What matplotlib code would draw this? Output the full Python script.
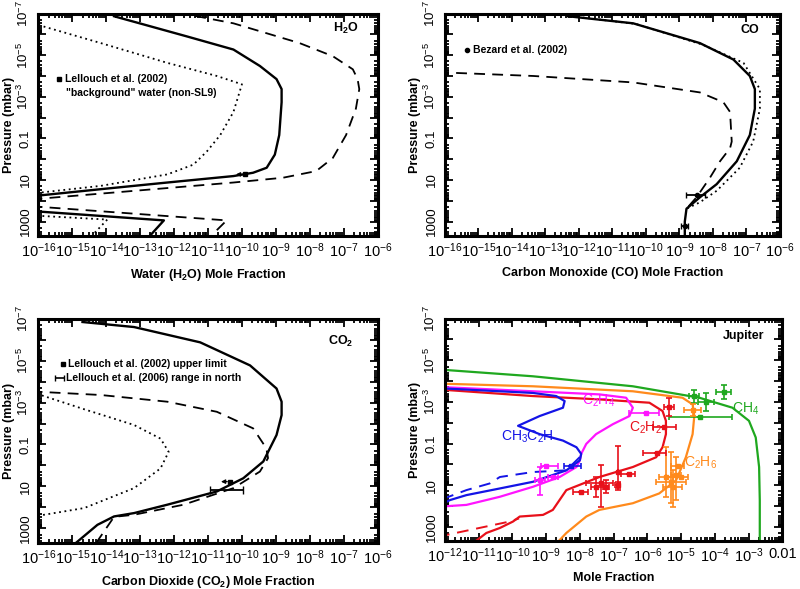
import numpy as np
import matplotlib.pyplot as plt
from matplotlib.ticker import LogLocator, NullFormatter

plt.rcParams['font.family'] = ['Liberation Sans', 'DejaVu Sans']
plt.rcParams['mathtext.default'] = 'regular'

# all values below are log10 of mole fraction (x) and log10 of pressure in mbar (p)

# ---- H2O panel
h2o_solid_x = [-13.77, -11.62, -10.25, -9.47, -8.98, -8.83, -8.83, -8.90, -9.03, -9.27, -9.67, -10.25, -12.2, -14.16, -16.2]
h2o_solid_p = [-6.87, -5.90, -5.27, -4.48, -3.85, -3.37, -2.74, -1.16, -0.22, 0.41, 0.65, 0.81, 1.12, 1.44, 1.78]
h2o_solid2_x = [-16.2, -12.3, -12.74, -12.9]
h2o_solid2_p = [2.49, 2.94, 3.73, 3.9]
h2o_dash_x = [-11.9, -10.25, -8.3, -7.32, -6.73, -6.59, -6.54, -6.64, -6.93, -7.32, -7.81, -8.79, -10.25, -13.18, -16.2]
h2o_dash_p = [-7.05, -6.53, -5.58, -4.95, -4.32, -3.85, -3.37, -2.43, -1.16, -0.06, 0.57, 0.89, 1.12, 1.52, 1.93]
h2o_dash2_x = [-16.2, -10.45, -10.84, -11.0]
h2o_dash2_p = [2.26, 2.94, 3.57, 3.9]
h2o_dot_x = [-16.0, -14.16, -12.2, -10.74, -10.0, -10.25, -10.64, -11.03, -11.43, -12.2, -14.16, -16.2]
h2o_dot_p = [-6.45, -5.58, -4.63, -4.0, -3.6, -2.27, -1.16, -0.38, 0.26, 0.73, 1.28, 1.65]
h2o_dot2_x = [-16.2, -13.97, -14.36, -14.5]
h2o_dot2_p = [2.7, 2.9, 3.57, 3.9]
h2o_obs_x, h2o_obs_p = -9.91, 0.73

# ---- CO panel
co_solid_x = [-12.32, -10.38, -8.39, -7.39, -6.90, -6.75, -6.75, -6.90, -7.29, -7.89, -8.39, -8.79, -8.84, -8.84]
co_solid_p = [-6.87, -6.53, -5.58, -4.79, -4.0, -3.37, -2.43, -1.16, 0.10, 1.20, 1.83, 2.38, 3.0, 3.9]
co_dot_x = [-12.2, -10.3, -8.3, -7.09, -6.6, -6.6, -6.8, -7.2, -7.89, -8.39, -8.79]
co_dot_p = [-6.87, -6.5, -5.5, -4.63, -3.37, -2.43, -0.85, 0.41, 1.52, 2.07, 2.38]
co_dash_x = [-16.2, -13.36, -10.38, -8.39, -7.69, -7.49, -7.44, -7.49, -7.79, -8.09, -8.49, -8.79]
co_dash_p = [-4.18, -4.0, -3.69, -3.21, -2.74, -2.27, -0.85, -0.53, 0.10, 0.89, 1.83, 2.38]
co_obs_x = [-8.49, -8.84]
co_obs_p = [1.71, 3.22]
co_obs_xlo = [-8.79, -8.94]
co_obs_xhi = [-8.24, -8.74]

# ---- CO2 panel
co2_solid_x = [-14.7, -13.18, -11.23, -9.76, -8.98, -8.83, -8.83, -8.98, -9.37, -9.96, -10.74, -12.2, -13.18, -13.77, -14.26, -14.9, -15.1]
co2_solid_p = [-6.84, -6.6, -5.87, -4.77, -3.67, -3.04, -2.4, -1.45, -0.19, 0.61, 1.24, 1.87, 2.27, 2.43, 2.83, 3.7, 3.9]
co2_dash_x = [-16.2, -14.16, -12.2, -10.74, -9.67, -9.28, -9.23, -9.47, -10.25, -11.72, -13.18, -13.77, -14.3, -14.45]
co2_dash_p = [-3.53, -3.36, -3.04, -2.56, -1.77, -0.82, -0.35, 0.29, 1.08, 1.87, 2.35, 2.45, 3.7, 3.9]
co2_dot_x = [-16.2, -14.65, -13.18, -12.4, -12.16, -12.4, -13.18, -14.65, -16.2]
co2_dot_p = [-3.5, -2.68, -1.93, -1.28, -0.65, 0.14, 1.08, 2.03, 2.45]
co2_limit_x, co2_limit_p = -10.35, 0.77
co2_range_x = [-10.94, -9.96]
co2_range_p = 1.16

# ---- Jupiter panel
ch4_x = [-12.2, -9.39, -6.43, -4.46, -3.48, -2.99, -2.79, -2.69, -2.67, -2.67]
ch4_p = [-4.56, -4.23, -3.75, -3.2, -2.72, -2.09, -1.29, 0.13, 1.72, 3.9]
c2h6_x = [-12.2, -9.39, -6.43, -4.96, -4.66, -4.61, -4.66, -4.86, -5.15, -5.65, -6.43, -7.42, -7.81, -8.4, -8.75]
c2h6_p = [-3.88, -3.75, -3.51, -3.2, -2.88, -2.32, -1.45, -0.34, 0.77, 1.4, 1.87, 2.19, 2.51, 3.3, 3.9]
c2h2_x = [-12.2, -9.39, -7.42, -5.94, -5.55, -5.45, -5.45, -5.55, -5.74, -6.43, -7.42, -8.4, -8.8, -9.09, -9.78, -9.98, -10.37, -10.77, -11.25]
c2h2_p = [-3.6, -3.28, -3.12, -2.96, -2.56, -2.09, -1.45, -0.82, -0.34, 0.13, 0.61, 1.24, 2.19, 2.43, 2.51, 2.75, 3.06, 3.3, 3.9]
c2h2_dash_x = [-12.2, -10.08, -9.8]
c2h2_dash_p = [3.48, 2.75, 2.6]
c2h4_x = [-12.2, -9.39, -7.42, -6.63, -6.43, -6.53, -7.02, -7.52, -7.81, -7.96, -8.0, -8.1, -8.6, -9.39, -10.37, -11.36, -12.2]
c2h4_p = [-3.72, -3.51, -3.36, -3.2, -2.72, -2.32, -1.93, -1.45, -0.98, -0.5, -0.19, 0.13, 0.61, 1.08, 1.56, 1.95, 2.04]
c3h4_x = [-12.2, -9.39, -8.7, -8.45, -8.5, -9.19, -9.83, -9.19, -8.5, -8.1, -7.96, -8.0, -8.4, -9.39, -10.37, -11.36, -11.85, -12.2]
c3h4_p = [-3.66, -3.43, -3.28, -3.04, -2.72, -2.32, -1.85, -1.45, -1.14, -0.82, -0.5, -0.19, 0.29, 0.84, 1.16, 1.48, 1.72, 2.0]
c3h4_dash_x = [-8.0, -8.4, -9.39, -10.37, -10.67, -11.36, -12.2]
c3h4_dash_p = [-0.35, 0.29, 0.37, 0.61, 0.92, 1.24, 1.75]

# observations: x, p, x low, x high, p low, p high
ch4_obs_x = [-4.61, -4.27, -3.74, -4.43]
ch4_obs_p = [-3.28, -3.01, -3.48, -2.28]
ch4_obs_xlo = [-4.76, -4.51, -3.97, -5.35]
ch4_obs_xhi = [-4.46, -4.02, -3.52, -3.48]
ch4_obs_plo = [-3.59, -3.43, -3.83, -2.28]
ch4_obs_phi = [-2.96, -2.56, -3.12, -2.28]

c2h6_obs_x = [-4.66, -5.1, -5.45, -5.3, -5.15, -5.25, -5.0]
c2h6_obs_p = [-2.61, 0.1, 0.61, 0.84, 0.53, 1.08, 0.61]
c2h6_obs_xlo = [-4.91, -5.3, -5.65, -5.74, -5.3, -5.55, -5.45]
c2h6_obs_xhi = [-4.41, -4.9, -5.25, -4.86, -5.0, -4.96, -4.81]
c2h6_obs_plo = [-2.88, 0.1, -0.82, -0.58, -0.35, 0.29, 0.61]
c2h6_obs_phi = [-2.32, 0.1, 1.56, 1.87, 1.71, 2.03, 0.61]

c2h2_obs_x = [-5.35, -5.5, -5.7, -6.53, -6.88, -6.88, -7.37, -7.52, -7.96, -7.22]
c2h2_obs_p = [-2.75, -1.8, -0.53, 0.45, 0.37, 1.0, 0.92, 1.08, 1.32, 1.08]
c2h2_obs_xlo = [-5.5, -5.84, -6.14, -6.78, -6.88, -6.95, -7.81, -7.67, -8.2, -7.3]
c2h2_obs_xhi = [-5.2, -5.15, -5.45, -6.38, -6.88, -6.8, -7.02, -7.27, -7.76, -7.15]
c2h2_obs_plo = [-3.2, -1.8, -0.53, 0.45, -0.9, 0.85, 0.05, 0.61, 1.32, 0.77]
c2h2_obs_phi = [-2.32, -1.8, -0.53, 0.45, 1.24, 1.15, 2.03, 1.56, 1.32, 1.4]

c2h4_obs_x = [-6.04, -9.0, -9.19, -8.8]
c2h4_obs_p = [-2.48, 0.08, 0.77, 0.61]
c2h4_obs_xlo = [-6.53, -9.14, -9.34, -8.95]
c2h4_obs_xhi = [-5.65, -8.65, -9.04, -8.65]
c2h4_obs_plo = [-2.48, 0.08, 0.13, 0.61]
c2h4_obs_phi = [-2.48, 0.08, 1.48, 0.61]

c3h4_obs_x = [-8.26]
c3h4_obs_p = [0.08]
c3h4_obs_xlo = [-8.46]
c3h4_obs_xhi = [-7.96]

panel_xlabels = ['Water (H$_2$O) Mole Fraction', 'Carbon Monoxide (CO) Mole Fraction',
                 'Carbon Dioxide (CO$_2$) Mole Fraction', 'Mole Fraction']
y_ticklabels = ['$10^{-7}$', '', '$10^{-5}$', '', '$10^{-3}$', '', '0.1', '', '10', '', '1000']

GREEN = '#1fa81f'
ORANGE = '#ff8a1c'
RED = '#e8101a'
MAGENTA = '#ff14ff'
BLUE = '#1414e6'


def L(v):
    return 10.0 ** np.asarray(v, dtype=float)


def setup(ax, xlo, xlabel, last_label=None):
    ax.set_xscale('log')
    ax.set_yscale('log')
    ax.set_xlim(10.0 ** xlo, 10.0 ** (xlo + 10))
    ax.set_ylim(5e3, 1e-7)
    exps = list(range(xlo, xlo + 11))
    ax.set_xticks(L(exps))
    labs = ['$10^{%d}$' % e for e in exps]
    if last_label:
        labs[-1] = last_label
    ax.set_xticklabels(labs, fontsize=10.5)
    ax.set_yticks(L(range(-7, 4)))
    ax.set_yticklabels(y_ticklabels, fontsize=9.5, rotation=90, va='center')
    ax.xaxis.set_minor_locator(LogLocator(base=10, subs=np.arange(2, 10), numticks=100))
    ax.yaxis.set_minor_locator(LogLocator(base=10, subs=np.arange(2, 10), numticks=100))
    ax.xaxis.set_minor_formatter(NullFormatter())
    ax.yaxis.set_minor_formatter(NullFormatter())
    ax.tick_params(which='both', direction='in', top=True, right=True, width=1.3)
    ax.tick_params(which='major', length=6, pad=4)
    ax.tick_params(axis='y', which='major', pad=5)
    ax.tick_params(which='minor', length=3)
    for sp in ax.spines.values():
        sp.set_linewidth(2.2)
    ax.set_xlabel(xlabel, fontsize=9, fontweight='bold', labelpad=5)
    ax.set_ylabel('Pressure (mbar)', fontsize=9, fontweight='bold', labelpad=1)


def obs(ax, x, p, xlo, xhi, plo, phi, color, marker='s', ms=3):
    x = L(x); p = L(p)
    xerr = [x - L(xlo), L(xhi) - x]
    perr = [p - L(plo), L(phi) - p]
    ax.errorbar(x, p, xerr=xerr, yerr=perr, fmt=marker, color=color, ms=ms,
                elinewidth=1.2, capsize=2.5, capthick=1.2)


fig = plt.figure(figsize=(8.0, 5.89), dpi=100)
ax1 = fig.add_axes([0.048, 0.599, 0.424, 0.378])
ax2 = fig.add_axes([0.556, 0.599, 0.419, 0.378])
ax3 = fig.add_axes([0.048, 0.078, 0.424, 0.381])
ax4 = fig.add_axes([0.556, 0.081, 0.422, 0.378])

DASH = (0, (6, 4))
DOT = (0, (1, 2))

# H2O
ax1.plot(L(h2o_solid_x), L(h2o_solid_p), 'k-', lw=1.7)
ax1.plot(L(h2o_solid2_x), L(h2o_solid2_p), 'k-', lw=1.7)
ax1.plot(L(h2o_dash_x), L(h2o_dash_p), 'k', ls=DASH, lw=1.3)
ax1.plot(L(h2o_dash2_x), L(h2o_dash2_p), 'k', ls=DASH, lw=1.3)
ax1.plot(L(h2o_dot_x), L(h2o_dot_p), 'k', ls=DOT, lw=1.3)
ax1.plot(L(h2o_dot2_x), L(h2o_dot2_p), 'k', ls=DOT, lw=1.3)
ax1.plot(10 ** h2o_obs_x, 10 ** h2o_obs_p, 'ks', ms=3)
ax1.annotate('', xy=(10 ** (h2o_obs_x - 0.35), 10 ** h2o_obs_p), xytext=(10 ** h2o_obs_x, 10 ** h2o_obs_p),
             arrowprops=dict(arrowstyle='-|>', lw=0.9, color='k', mutation_scale=6))
ax1.plot([0.062], [0.705], 'ks', ms=3, transform=ax1.transAxes)
ax1.text(0.078, 0.705, 'Lellouch et al. (2002)', transform=ax1.transAxes, fontsize=7.5,
         fontweight='bold', va='center')
ax1.text(0.082, 0.645, '"background" water (non-SL9)', transform=ax1.transAxes, fontsize=7.5,
         fontweight='bold', va='center')
ax1.text(0.906, 0.932, 'H$_2$O', transform=ax1.transAxes, fontsize=9, fontweight='bold',
         ha='center', va='center')
setup(ax1, -16, panel_xlabels[0])

# CO
ax2.plot(L(co_solid_x), L(co_solid_p), 'k-', lw=1.7)
ax2.plot(L(co_dot_x), L(co_dot_p), 'k', ls=DOT, lw=1.3)
ax2.plot(L(co_dash_x), L(co_dash_p), 'k', ls=DASH, lw=1.3)
cx = L(co_obs_x)
ax2.errorbar(cx, L(co_obs_p), xerr=[cx - L(co_obs_xlo), L(co_obs_xhi) - cx], fmt='ko', ms=3,
             elinewidth=1.3, capsize=2.5)
ax2.plot([0.066], [0.836], 'ko', ms=3, transform=ax2.transAxes)
ax2.text(0.085, 0.836, 'Bezard et al. (2002)', transform=ax2.transAxes, fontsize=7.5,
         fontweight='bold', va='center')
ax2.text(0.91, 0.925, 'CO', transform=ax2.transAxes, fontsize=9, fontweight='bold',
         ha='center', va='center')
setup(ax2, -16, panel_xlabels[1])

# CO2
ax3.plot(L(co2_solid_x), L(co2_solid_p), 'k-', lw=1.7)
ax3.plot(L(co2_dash_x), L(co2_dash_p), 'k', ls=DASH, lw=1.3)
ax3.plot(L(co2_dot_x), L(co2_dot_p), 'k', ls=DOT, lw=1.3)
ax3.plot(10 ** co2_limit_x, 10 ** co2_limit_p, 'ks', ms=3)
ax3.annotate('', xy=(10 ** (co2_limit_x - 0.35), 10 ** co2_limit_p), xytext=(10 ** co2_limit_x, 10 ** co2_limit_p),
             arrowprops=dict(arrowstyle='-|>', lw=0.9, color='k', mutation_scale=6))
rx = L(co2_range_x)
rmid = np.sqrt(rx[0] * rx[1])
ax3.errorbar([rmid], [10 ** co2_range_p], xerr=[[rmid - rx[0]], [rx[1] - rmid]],
             fmt='none', ecolor='k', elinewidth=1.3, capsize=3)
ax3.plot([0.073], [0.80], 'ks', ms=3, transform=ax3.transAxes)
ax3.text(0.088, 0.80, 'Lellouch et al. (2002) upper limit', transform=ax3.transAxes, fontsize=7.5,
         fontweight='bold', va='center')
ax3.errorbar([0.062], [0.735], xerr=[0.014], fmt='none', ecolor='k', elinewidth=1.2, capsize=2.5,
             transform=ax3.transAxes)
ax3.text(0.08, 0.735, 'Lellouch et al. (2006) range in north', transform=ax3.transAxes, fontsize=7.5,
         fontweight='bold', va='center')
ax3.text(0.89, 0.90, 'CO$_2$', transform=ax3.transAxes, fontsize=9, fontweight='bold',
         ha='center', va='center')
setup(ax3, -16, panel_xlabels[2])

# Jupiter
ax4.plot(L(ch4_x), L(ch4_p), color=GREEN, lw=1.6)
ax4.plot(L(c2h6_x), L(c2h6_p), color=ORANGE, lw=1.6)
ax4.plot(L(c2h2_x), L(c2h2_p), color=RED, lw=1.6)
ax4.plot(L(c2h2_dash_x), L(c2h2_dash_p), color=RED, lw=1.4, ls=DASH)
ax4.plot(L(c2h4_x), L(c2h4_p), color=MAGENTA, lw=1.6)
ax4.plot(L(c3h4_x), L(c3h4_p), color=BLUE, lw=1.6)
ax4.plot(L(c3h4_dash_x), L(c3h4_dash_p), color=BLUE, lw=1.4, ls=DASH)
obs(ax4, ch4_obs_x, ch4_obs_p, ch4_obs_xlo, ch4_obs_xhi, ch4_obs_plo, ch4_obs_phi, GREEN)
obs(ax4, c2h6_obs_x, c2h6_obs_p, c2h6_obs_xlo, c2h6_obs_xhi, c2h6_obs_plo, c2h6_obs_phi, ORANGE)
obs(ax4, c2h2_obs_x, c2h2_obs_p, c2h2_obs_xlo, c2h2_obs_xhi, c2h2_obs_plo, c2h2_obs_phi, RED)
obs(ax4, c2h4_obs_x, c2h4_obs_p, c2h4_obs_xlo, c2h4_obs_xhi, c2h4_obs_plo, c2h4_obs_phi, MAGENTA)
obs(ax4, c3h4_obs_x, c3h4_obs_p, c3h4_obs_xlo, c3h4_obs_xhi, c3h4_obs_p, c3h4_obs_p, BLUE)
ax4.text(10 ** -9.54, 10 ** -1.31, 'CH$_3$C$_2$H', color=BLUE, fontsize=10, ha='center', va='center')
ax4.text(10 ** -7.44, 10 ** -3.07, 'C$_2$H$_4$', color=MAGENTA, fontsize=10, ha='center', va='center')
ax4.text(10 ** -6.05, 10 ** -1.74, 'C$_2$H$_2$', color=RED, fontsize=10, ha='center', va='center')
ax4.text(10 ** -4.43, 10 ** -0.08, 'C$_2$H$_6$', color=ORANGE, fontsize=10, ha='center', va='center')
ax4.text(10 ** -3.1, 10 ** -2.69, 'CH$_4$', color=GREEN, fontsize=10, ha='center', va='center')
ax4.text(0.885, 0.92, 'Jupiter', transform=ax4.transAxes, fontsize=9, fontweight='bold',
         ha='center', va='center')
setup(ax4, -12, panel_xlabels[3], last_label='0.01')

fig.savefig('out.png', dpi=100)
